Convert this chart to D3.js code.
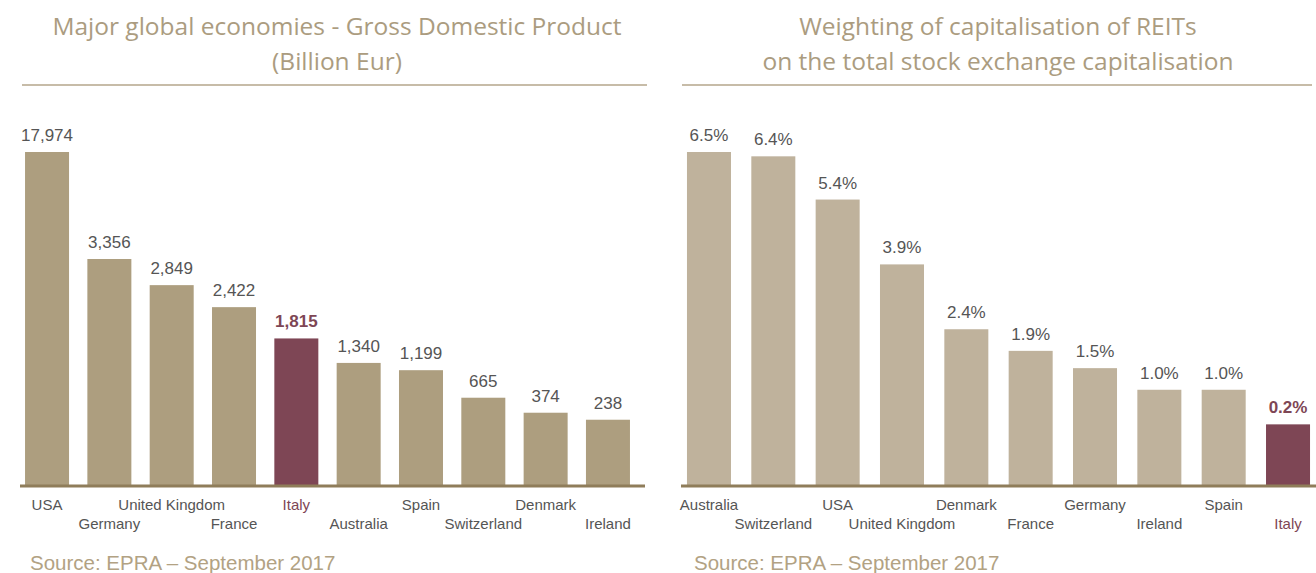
<!DOCTYPE html>
<html>
<head>
<meta charset="utf-8">
<script src="https://cdn.jsdelivr.net/npm/d3@7"></script>
<style>
  html, body { margin: 0; padding: 0; background: #ffffff; }
  svg { display: block; }
</style>
</head>
<body>
<svg id="chart" width="1316" height="573"></svg>
<script>
// ---- Data ----
const gdpCountries = ["USA", "Germany", "United Kingdom", "France", "Italy", "Australia", "Spain", "Switzerland", "Denmark", "Ireland"];
const gdpValues = [17974, 3356, 2849, 2422, 1815, 1340, 1199, 665, 374, 238];
const gdpLabels = ["17,974", "3,356", "2,849", "2,422", "1,815", "1,340", "1,199", "665", "374", "238"];

const reitCountries = ["Australia", "Switzerland", "USA", "United Kingdom", "Denmark", "France", "Germany", "Ireland", "Spain", "Italy"];
const reitValues = [6.5, 6.4, 5.4, 3.9, 2.4, 1.9, 1.5, 1.0, 1.0, 0.2];
const reitLabels = ["6.5%", "6.4%", "5.4%", "3.9%", "2.4%", "1.9%", "1.5%", "1.0%", "1.0%", "0.2%"];

const titleLeft = ["Major global economies - Gross Domestic Product", "(Billion Eur)"];
const titleRight = ["Weighting of capitalisation of REITs", "on the total stock exchange capitalisation"];
const sourceText = "Source: EPRA \u2013 September 2017";
const highlight = "Italy";

// ---- Styles ----
const C = {
  title: "#ab9c80",
  rule: "#c7bca8",
  axis: "#8f7d5a",
  barLeft: "#ad9e7f",
  barRight: "#bfb29c",
  hi: "#7e4655",
  text: "#555555",
  source: "#b2a283"
};
const titleFont = "'Open Sans', sans-serif";
const bodyFont = "'Liberation Sans', 'Open Sans', sans-serif";

const svg = d3.select("#chart");
const baseY = 485;

function panel(opts) {
  const g = svg.append("g");

  // Title
  opts.title.forEach((t, i) => {
    g.append("text")
      .attr("x", opts.titleX)
      .attr("y", 35 + i * 35)
      .attr("text-anchor", "middle")
      .attr("font-family", titleFont)
      .attr("font-size", 24.5)
      .attr("fill", C.title)
      .text(t);
  });
  g.append("line")
    .attr("x1", opts.ruleX0).attr("x2", opts.ruleX1)
    .attr("y1", 85).attr("y2", 85)
    .attr("stroke", C.rule).attr("stroke-width", 2);

  const x = d3.scaleBand()
    .domain(opts.categories)
    .range([opts.x0, opts.x1])
    .paddingInner(opts.padIn)
    .paddingOuter(opts.padOut);

  const y = opts.y;

  const data = opts.categories.map((c, i) => ({ c, v: opts.values[i], l: opts.labels[i], i }));

  g.selectAll("rect.bar").data(data).enter().append("rect")
    .attr("class", "bar")
    .attr("x", d => x(d.c))
    .attr("width", x.bandwidth())
    .attr("y", d => y(d.v))
    .attr("height", d => baseY - y(d.v))
    .attr("fill", d => d.c === highlight ? C.hi : opts.barColor);

  g.selectAll("text.val").data(data).enter().append("text")
    .attr("class", "val")
    .attr("x", d => x(d.c) + x.bandwidth() / 2)
    .attr("y", d => y(d.v) - 11)
    .attr("text-anchor", "middle")
    .attr("font-family", bodyFont)
    .attr("font-size", 17)
    .attr("font-weight", d => d.c === highlight ? "bold" : "normal")
    .attr("fill", d => d.c === highlight ? C.hi : C.text)
    .text(d => d.l);

  // Axis baseline via d3 axis
  const axis = d3.axisBottom(x).tickSize(0).tickFormat("");
  const ag = g.append("g").attr("transform", `translate(0,${baseY + 1})`).call(axis);
  ag.select(".domain").attr("stroke", C.axis).attr("stroke-width", 3)
    .attr("d", `M${opts.axisX0},0H${opts.axisX1}`);

  // Category labels in two alternating rows
  g.selectAll("text.cat").data(data).enter().append("text")
    .attr("class", "cat")
    .attr("x", d => x(d.c) + x.bandwidth() / 2)
    .attr("y", d => d.i % 2 === 0 ? 510 : 529)
    .attr("text-anchor", "middle")
    .attr("font-family", bodyFont)
    .attr("font-size", 15)
    .attr("fill", d => d.c === highlight ? C.hi : C.text)
    .text(d => d.c);

  g.append("text")
    .attr("x", opts.sourceX)
    .attr("y", 570)
    .attr("font-family", bodyFont)
    .attr("font-size", 20.5)
    .attr("fill", C.source)
    .text(sourceText);
}

// Left: compressed (broken) value axis
const yLeft = d3.scaleLinear()
  .domain([0, gdpValues[1], gdpValues[0]])
  .range([baseY - 53, baseY - 226, baseY - 333]);

panel({
  categories: gdpCountries, values: gdpValues, labels: gdpLabels,
  x0: 16, x1: 639, padIn: 0.294, padOut: 0.145,
  y: yLeft, barColor: C.barLeft,
  title: titleLeft, titleX: 337, ruleX0: 22, ruleX1: 647,
  axisX0: 20, axisX1: 645, sourceX: 30
});

const yRight = d3.scaleLinear()
  .domain([0, d3.max(reitValues)])
  .range([baseY - 52, baseY - 333]);

panel({
  categories: reitCountries, values: reitValues, labels: reitLabels,
  x0: 677, x1: 1320, padIn: 0.316, padOut: 0.155,
  y: yRight, barColor: C.barRight,
  title: titleRight, titleX: 998, ruleX0: 682, ruleX1: 1312,
  axisX0: 681, axisX1: 1316, sourceX: 694
});
</script>
</body>
</html>
